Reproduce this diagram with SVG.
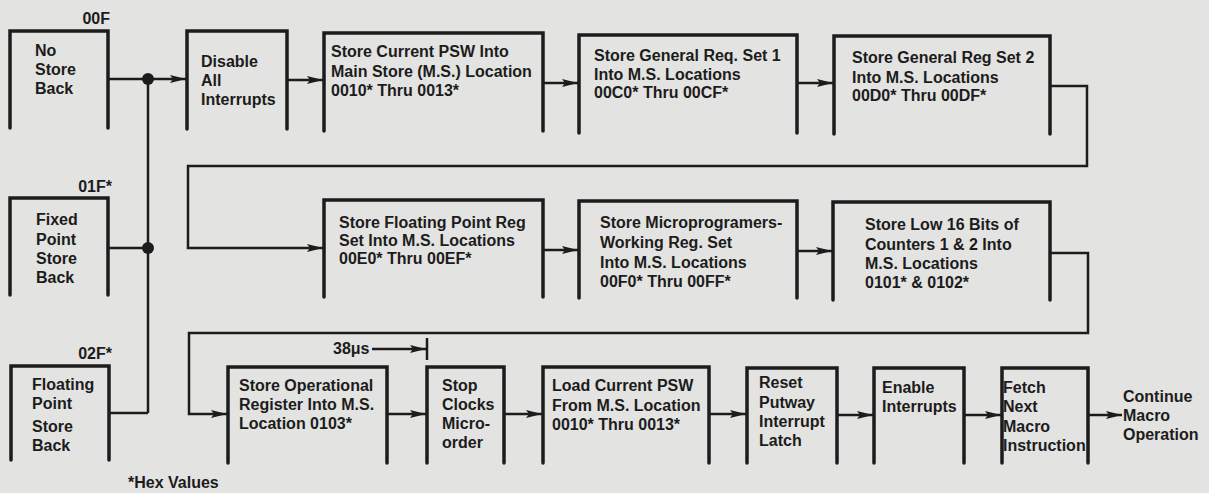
<svg xmlns="http://www.w3.org/2000/svg" width="1209" height="493" viewBox="0 0 1209 493">
<defs>
<style>
.bg{fill:#e3e3e1}
.box{fill:none;stroke:#1c1c1c;stroke-width:3.5;stroke-linecap:round;stroke-linejoin:miter}
.ln{fill:none;stroke:#1c1c1c;stroke-width:2.5;stroke-linejoin:miter}
.arr{marker-end:url(#ah)}
text{font-family:"Liberation Sans",Arial,sans-serif;font-weight:bold;font-size:16px;fill:#1c1c1c}
.lbl{text-anchor:end}
.dot{fill:#1c1c1c}
</style>
<marker id="ah" markerUnits="userSpaceOnUse" markerWidth="18" markerHeight="10" refX="16" refY="5" orient="auto">
<path d="M0,1 L16,5 L0,9 L3,5 z" fill="#1c1c1c"/>
</marker>
</defs>
<rect class="bg" x="0" y="0" width="1209" height="493"/>

<g id="connectors">
<path class="ln" d="M108,79 H148"/>
<path class="ln arr" d="M148,79 H186"/>
<path class="ln" d="M148,79 V413"/>
<path class="ln" d="M108,248 H148"/>
<path class="ln" d="M109,413 H148"/>
<path class="ln arr" d="M287,80 H323"/>
<path class="ln arr" d="M543,83 H578"/>
<path class="ln arr" d="M797,83 H833"/>
<path class="ln arr" d="M1050,86 H1087 V166 H188 V248 H323"/>
<path class="ln arr" d="M543,250 H578"/>
<path class="ln arr" d="M797,251 H832"/>
<path class="ln arr" d="M1050,253 H1088 V333 H189 V414 H227"/>
<path class="ln arr" d="M387,414 H426"/>
<path class="ln arr" d="M504,414 H542"/>
<path class="ln arr" d="M709,414 H746"/>
<path class="ln arr" d="M837,415 H873"/>
<path class="ln arr" d="M964,415 H1001"/>
<path class="ln arr" d="M1088,415 H1122"/>
<path class="ln arr" d="M372,349 H426"/>
<path class="ln" d="M427,338 V360"/>
<circle class="dot" cx="148" cy="79" r="6"/>
<circle class="dot" cx="148" cy="248" r="6"/>
</g>

<g id="n1">
<path class="box" d="M10,128 V31 H108 V128"/>
<text class="lbl" x="110" y="24">00F</text>
<text x="35" y="56">No</text>
<text x="35" y="75">Store</text>
<text x="35" y="94">Back</text>
</g>
<g id="n2">
<path class="box" d="M187,129 V31 H287 V129"/>
<text x="201" y="67">Disable</text>
<text x="201" y="86">All</text>
<text x="201" y="105">Interrupts</text>
</g>
<g id="n3">
<path class="box" d="M324,131 V33 H543 V131"/>
<text x="331" y="57">Store Current PSW Into</text>
<text x="331" y="77">Main Store (M.S.) Location</text>
<text x="331" y="96">0010* Thru 0013*</text>
</g>
<g id="n4">
<path class="box" d="M579,133 V35 H797 V133"/>
<text x="594" y="61">Store General Req. Set 1</text>
<text x="594" y="80">Into M.S. Locations</text>
<text x="594" y="98">00C0* Thru 00CF*</text>
</g>
<g id="n5">
<path class="box" d="M834,134 V36 H1050 V134"/>
<text x="852" y="63">Store General Reg Set 2</text>
<text x="852" y="83">Into M.S. Locations</text>
<text x="852" y="101">00D0* Thru 00DF*</text>
</g>
<g id="n6">
<path class="box" d="M10,295 V198 H108 V295"/>
<text class="lbl" x="112" y="192">01F*</text>
<text x="36" y="225">Fixed</text>
<text x="36" y="245">Point</text>
<text x="36" y="264">Store</text>
<text x="36" y="283">Back</text>
</g>
<g id="n7">
<path class="box" d="M324,297 V200 H543 V297"/>
<text x="339" y="228">Store Floating Point Reg</text>
<text x="339" y="246">Set Into M.S. Locations</text>
<text x="339" y="264">00E0* Thru 00EF*</text>
</g>
<g id="n8">
<path class="box" d="M579,298 V201 H797 V298"/>
<text x="600" y="228">Store Microprogramers-</text>
<text x="600" y="248">Working Reg. Set</text>
<text x="600" y="268">Into M.S. Locations</text>
<text x="600" y="287">00F0* Thru 00FF*</text>
</g>
<g id="n9">
<path class="box" d="M833,300 V202 H1050 V300"/>
<text x="865" y="230">Store Low 16 Bits of</text>
<text x="865" y="250">Counters 1 &amp; 2 Into</text>
<text x="865" y="269">M.S. Locations</text>
<text x="865" y="288">0101* &amp; 0102*</text>
</g>
<g id="n10">
<path class="box" d="M11,460 V366 H109 V460"/>
<text class="lbl" x="112" y="359">02F*</text>
<text x="32" y="390">Floating</text>
<text x="32" y="409">Point</text>
<text x="32" y="432">Store</text>
<text x="32" y="451">Back</text>
</g>
<g id="n11">
<path class="box" d="M228,463 V367 H387 V463"/>
<text x="239" y="391">Store Operational</text>
<text x="239" y="410">Register Into M.S.</text>
<text x="239" y="429">Location 0103*</text>
</g>
<g id="n12">
<path class="box" d="M427,463 V367 H504 V463"/>
<text x="442" y="391">Stop</text>
<text x="442" y="410">Clocks</text>
<text x="442" y="429">Micro-</text>
<text x="442" y="448">order</text>
</g>
<g id="n13">
<path class="box" d="M543,463 V367 H709 V463"/>
<text x="552" y="391">Load Current PSW</text>
<text x="552" y="411">From M.S. Location</text>
<text x="552" y="430">0010* Thru 0013*</text>
</g>
<g id="n14">
<path class="box" d="M747,463 V368 H837 V463"/>
<text x="759" y="388">Reset</text>
<text x="759" y="408">Putway</text>
<text x="759" y="427">Interrupt</text>
<text x="759" y="446">Latch</text>
</g>
<g id="n15">
<path class="box" d="M874,463 V368 H964 V463"/>
<text x="882" y="393">Enable</text>
<text x="882" y="412">Interrupts</text>
</g>
<g id="n16">
<path class="box" d="M1002,463 V368 H1088 V463"/>
<text x="1003" y="393">Fetch</text>
<text x="1003" y="412">Next</text>
<text x="1003" y="432">Macro</text>
<text x="1003" y="451">Instruction</text>
</g>
<g id="out">
<text x="1123" y="402">Continue</text>
<text x="1123" y="421">Macro</text>
<text x="1123" y="440">Operation</text>
</g>
<g id="notes">
<text x="333" y="354">38μs</text>
<text x="128" y="488">*Hex Values</text>
</g>
</svg>
